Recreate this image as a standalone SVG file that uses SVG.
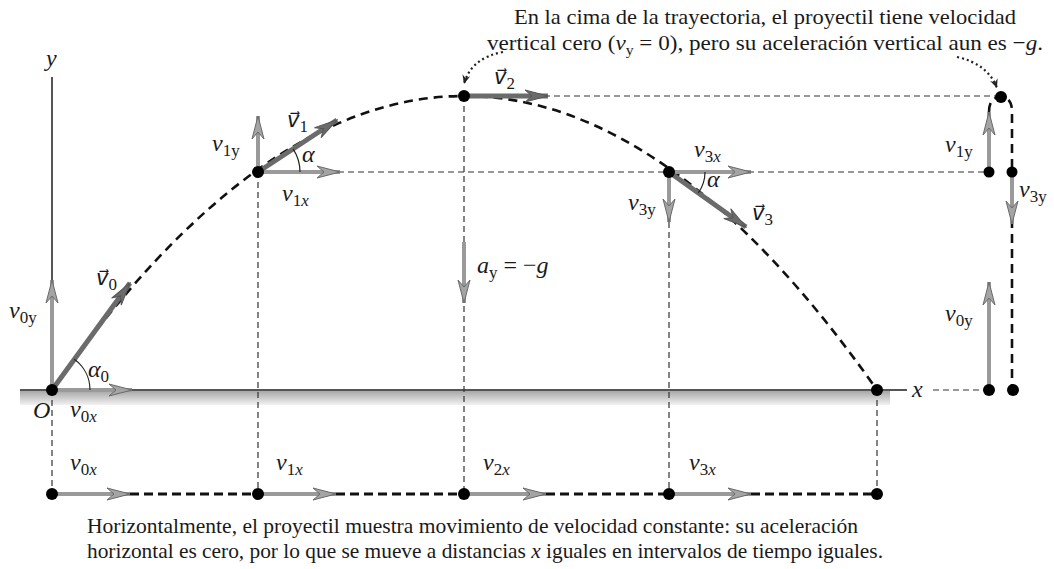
<svg xmlns="http://www.w3.org/2000/svg" width="1054" height="569" viewBox="0 0 1054 569">
<defs>
<style>
.t{font-family:"Liberation Serif","Times New Roman",serif;fill:#1a1a1a}
.lb{font-family:"Liberation Serif","Times New Roman",serif;font-style:italic;font-size:24px;fill:#1a1a1a}
.vl{font-family:"DejaVu Sans",sans-serif;font-style:italic;font-size:21px;fill:#1a1a1a}
.sb{font-family:"Liberation Serif","Times New Roman",serif;font-style:normal;font-size:17px}
.sbi{font-style:italic;font-size:17px}
.traj{fill:none;stroke:#111;stroke-width:2.6;stroke-dasharray:9 6}
.thin{fill:none;stroke:#333;stroke-width:1.2;stroke-dasharray:6 4}
.thick{fill:none;stroke:#111;stroke-width:3;stroke-dasharray:9 5}
.comp{stroke:#9a9a9a;stroke-width:4;fill:none;marker-end:url(#hc)}
.vec{stroke:#6b6b6b;stroke-width:5;fill:none;marker-end:url(#hv)}
.arc{fill:none;stroke:#222;stroke-width:1.2}
.dot{fill:#000}
.dotted{fill:none;stroke:#222;stroke-width:2.2;stroke-dasharray:2 3;marker-end:url(#hd)}
</style>
<marker id="hc" viewBox="-24 -7 25 14" refX="0" refY="0" markerWidth="25" markerHeight="14" markerUnits="userSpaceOnUse" orient="auto">
<path d="M0,0 L-23,-6 L-16,0 L-23,6 Z" fill="#a4a4a4" stroke="#6a6a6a" stroke-width="1"/>
</marker>
<marker id="hv" viewBox="-24 -7 25 14" refX="0" refY="0" markerWidth="25" markerHeight="14" markerUnits="userSpaceOnUse" orient="auto">
<path d="M0,0 L-23,-6 L-16,0 L-23,6 Z" fill="#6b6b6b" stroke="#555" stroke-width="1"/>
</marker>
<marker id="hd" viewBox="-10 -5 11 10" refX="0" refY="0" markerWidth="11" markerHeight="10" markerUnits="userSpaceOnUse" orient="auto">
<path d="M0,0 L-9,-4 L-6,0 L-9,4 Z" fill="#222"/>
</marker>
<linearGradient id="gnd" x1="0" y1="0" x2="0" y2="1">
<stop offset="0" stop-color="#a8a8a8"/>
<stop offset="1" stop-color="#f2f2f2"/>
</linearGradient>
</defs>
<rect width="1054" height="569" fill="#fff"/>

<g id="axes">
<rect x="20" y="391" width="870" height="14" fill="url(#gnd)"/>
<line x1="20" y1="390" x2="907" y2="390" stroke="#555" stroke-width="2"/>
<line x1="52" y1="77" x2="52" y2="390" stroke="#555" stroke-width="2"/>
<text class="lb" x="46" y="66">y</text>
<text class="lb" x="912" y="397">x</text>
<text class="lb" x="33" y="418">O</text>
</g>

<g id="connectors">
<path class="thin" d="M464,96 H998 M258,172 H989 M933,390 H989 M52,390 V494 M258,172 V494 M464,96 V494 M669,172 V494 M877,390 V494"/>
<path class="traj" d="M52,390 Q464,-198 877,390"/>
<path class="traj" d="M989,172 V112 Q989,97 1001,97 Q1012,97 1012,112 V390"/>
<path class="thick" d="M130,494 H258 M336,494 H464 M546,494 H669 M751,494 H877"/>
<path class="dotted" d="M503,52 Q471,58 464,84"/>
<path class="dotted" d="M957,57 Q988,64 997,88"/>
</g>

<g id="node-p0">
<line class="comp" x1="52" y1="390" x2="52" y2="280"/>
<line class="comp" x1="52" y1="390" x2="132" y2="390"/>
<line class="vec" x1="52" y1="390" x2="130" y2="283"/>
<path class="arc" d="M90,390 A38,38 0 0 0 74.3,359.3"/>
<circle class="dot" cx="52" cy="390" r="6"/>
<text class="lb" x="9" y="318">v<tspan class="sb" dy="5">0y</tspan></text>
<text class="vl" x="96" y="285">v⃗<tspan class="sb" dy="5">0</tspan></text>
<text class="lb" x="88" y="377">α<tspan class="sb" dy="5">0</tspan></text>
<text class="lb" x="70" y="417">v<tspan class="sb" dy="5">0</tspan><tspan class="sbi">x</tspan></text>
</g>

<g id="node-p1">
<line class="comp" x1="258" y1="172" x2="258" y2="116"/>
<line class="comp" x1="258" y1="172" x2="340" y2="172"/>
<line class="vec" x1="258" y1="172" x2="337" y2="120"/>
<path class="arc" d="M300,172 A42,42 0 0 0 293.2,149.1"/>
<circle class="dot" cx="258" cy="172" r="6"/>
<text class="lb" x="212" y="151">v<tspan class="sb" dy="5">1y</tspan></text>
<text class="vl" x="287" y="127">v⃗<tspan class="sb" dy="5">1</tspan></text>
<text class="lb" x="302" y="162">α</text>
<text class="lb" x="282" y="201">v<tspan class="sb" dy="5">1</tspan><tspan class="sbi">x</tspan></text>
</g>

<g id="node-p2">
<line class="vec" x1="464" y1="96" x2="548" y2="96"/>
<circle class="dot" cx="464" cy="96" r="6"/>
<text class="vl" x="494" y="84">v⃗<tspan class="sb" dy="5">2</tspan></text>
</g>

<g id="node-ay">
<line class="comp" x1="464" y1="242" x2="464" y2="303"/>
<text class="lb" x="477" y="273">a<tspan class="sb" dy="5">y</tspan><tspan dy="-5" font-style="normal"> = −</tspan>g</text>
</g>

<g id="node-p3">
<line class="comp" x1="669" y1="172" x2="751" y2="172"/>
<line class="comp" x1="669" y1="172" x2="669" y2="222"/>
<line class="vec" x1="669" y1="172" x2="746" y2="227"/>
<path class="arc" d="M705,172 A36,36 0 0 1 698.3,192.9"/>
<circle class="dot" cx="669" cy="172" r="6"/>
<text class="lb" x="694" y="157">v<tspan class="sb" dy="5">3</tspan><tspan class="sbi">x</tspan></text>
<text class="lb" x="707" y="187">α</text>
<text class="lb" x="628" y="210">v<tspan class="sb" dy="5">3y</tspan></text>
<text class="vl" x="752" y="220">v⃗<tspan class="sb" dy="5">3</tspan></text>
</g>

<g id="node-p4">
<circle class="dot" cx="877" cy="390" r="6"/>
</g>

<g id="node-vertical">
<line class="comp" x1="989" y1="172" x2="989" y2="112"/>
<line class="comp" x1="1012" y1="172" x2="1012" y2="224"/>
<line class="comp" x1="989" y1="390" x2="989" y2="282"/>
<circle class="dot" cx="1001" cy="97" r="6"/>
<circle class="dot" cx="989" cy="172" r="5.5"/>
<circle class="dot" cx="1012" cy="172" r="5.5"/>
<circle class="dot" cx="989" cy="390" r="6"/>
<circle class="dot" cx="1013" cy="390" r="6"/>
<text class="lb" x="945" y="152">v<tspan class="sb" dy="5">1y</tspan></text>
<text class="lb" x="1019" y="197">v<tspan class="sb" dy="5">3y</tspan></text>
<text class="lb" x="945" y="321">v<tspan class="sb" dy="5">0y</tspan></text>
</g>

<g id="node-horizontal">
<line class="comp" x1="52" y1="494" x2="130" y2="494"/>
<line class="comp" x1="258" y1="494" x2="336" y2="494"/>
<line class="comp" x1="464" y1="494" x2="546" y2="494"/>
<line class="comp" x1="669" y1="494" x2="751" y2="494"/>
<circle class="dot" cx="52" cy="494" r="6"/>
<circle class="dot" cx="258" cy="494" r="6"/>
<circle class="dot" cx="464" cy="494" r="6"/>
<circle class="dot" cx="669" cy="494" r="6"/>
<circle class="dot" cx="877" cy="494" r="6"/>
<text class="lb" x="70" y="470">v<tspan class="sb" dy="5">0</tspan><tspan class="sbi">x</tspan></text>
<text class="lb" x="276" y="470">v<tspan class="sb" dy="5">1</tspan><tspan class="sbi">x</tspan></text>
<text class="lb" x="483" y="470">v<tspan class="sb" dy="5">2</tspan><tspan class="sbi">x</tspan></text>
<text class="lb" x="689" y="470">v<tspan class="sb" dy="5">3</tspan><tspan class="sbi">x</tspan></text>
</g>

<g id="note-top">
<text class="t" font-size="22" x="514" y="24" textLength="502" lengthAdjust="spacingAndGlyphs">En la cima de la trayectoria, el proyectil tiene velocidad</text>
<text class="t" font-size="22" x="487" y="50" textLength="556" lengthAdjust="spacingAndGlyphs">vertical cero  (<tspan font-style="italic">v</tspan><tspan font-size="15" dy="5">y</tspan><tspan dy="-5"> = 0), pero su aceleración vertical aun es −</tspan><tspan font-style="italic">g</tspan>.</text>
</g>

<g id="note-bottom">
<text class="t" font-size="21" x="87" y="533" textLength="771" lengthAdjust="spacingAndGlyphs">Horizontalmente, el proyectil muestra movimiento de velocidad constante: su aceleración</text>
<text class="t" font-size="21" x="87" y="558" textLength="796" lengthAdjust="spacingAndGlyphs">horizontal es cero, por lo que se mueve a distancias <tspan font-style="italic">x</tspan> iguales en intervalos de tiempo iguales.</text>
</g>
</svg>
